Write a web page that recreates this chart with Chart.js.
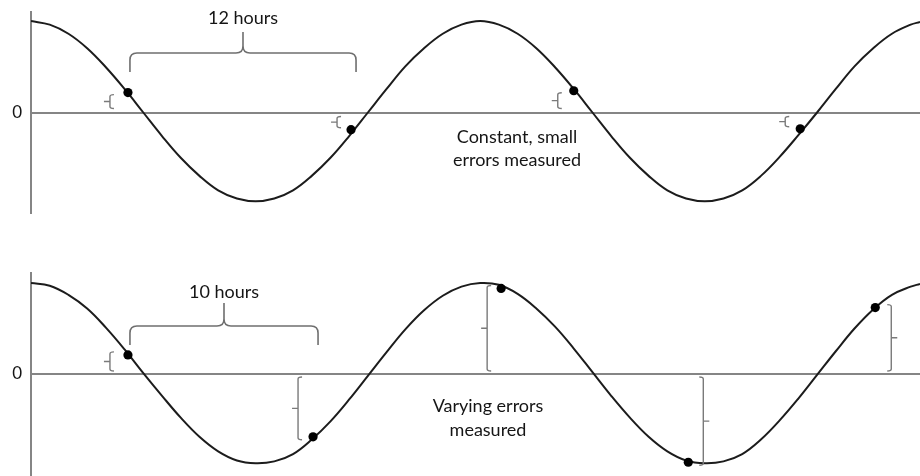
<!DOCTYPE html>
<html>
<head>
<meta charset="utf-8">
<script src="https://cdn.jsdelivr.net/npm/chart.js@4.4.1/dist/chart.umd.min.js"></script>
<style>
  html, body { margin: 0; padding: 0; background: #ffffff; }
  #wrap { position: relative; width: 920px; height: 476px; overflow: hidden; }
  canvas { position: absolute; left: 0; }
  #c1 { top: 0; }
  #c2 { top: 238px; }
</style>
</head>
<body>
<div id="wrap">
  <canvas id="c1" width="920" height="238"></canvas>
  <canvas id="c2" width="920" height="238"></canvas>
</div>
<script>
// ---- data (x in hours, y in wave amplitude units) ----
const hours = [0, 1, 2, 3, 4, 5, 6, 7, 8, 9, 10, 11, 12, 13, 14, 15, 16, 17, 18, 19, 20, 21, 22, 23, 24,
               25, 26, 27, 28, 29, 30, 31, 32, 33, 34, 35, 36, 37, 38, 39, 40, 41, 42, 43, 44, 45, 46, 47, 47.5];
const topWave = [1.01, 0.97, 0.87, 0.71, 0.50, 0.26, 0.00, -0.26, -0.50, -0.70, -0.86, -0.95, -0.98, -0.95, -0.86, -0.70, -0.50, -0.26, 0.00, 0.26, 0.51, 0.71, 0.87, 0.97, 1.01,
                 0.97, 0.87, 0.71, 0.50, 0.26, 0.00, -0.26, -0.50, -0.70, -0.86, -0.95, -0.98, -0.95, -0.86, -0.70, -0.49, -0.25, 0.00, 0.26, 0.51, 0.71, 0.87, 0.97, 1.00];
const bottomWave = [1.00, 0.97, 0.87, 0.72, 0.51, 0.27, 0.01, -0.24, -0.48, -0.69, -0.85, -0.95, -0.98, -0.96, -0.88, -0.72, -0.52, -0.28, -0.02, 0.24, 0.49, 0.70, 0.86, 0.96, 1.00,
                    0.98, 0.88, 0.72, 0.52, 0.28, 0.02, -0.24, -0.48, -0.69, -0.85, -0.95, -0.98, -0.96, -0.88, -0.72, -0.51, -0.27, -0.01, 0.25, 0.50, 0.71, 0.87, 0.96, 0.99];

const topSampleHours = [5.18, 17.1, 29.0, 41.1];
const topSampleValues = [0.22, -0.19, 0.24, -0.18];
const topErrorSides = ['left', 'left', 'left', 'left'];

const bottomSampleHours = [5.18, 15.07, 25.12, 35.12, 45.11];
const bottomSampleValues = [0.21, -0.69, 0.94, -0.97, 0.73];
const bottomErrorSides = ['left', 'left', 'left', 'right', 'right'];

const intervalLabels = ['12 hours', '10 hours'];
const noteTop = ['Constant, small', 'errors measured'];
const noteBottom = ['Varying errors', 'measured'];
const zeroTick = [0];

const FONT = 'Lato, "Open Sans", "DejaVu Sans", sans-serif';
const GREY = '#858585';
const INK = '#1c1c1c';

const marksPlugin = {
  id: 'marks',
  afterDatasetsDraw(chart) {
    const cfg = chart.options.plugins.marks;
    if (!cfg) return;
    const ctx = chart.ctx;
    const xs = chart.scales.x, ys = chart.scales.y;
    const y0 = ys.getPixelForValue(0);
    ctx.save();
    // error brackets
    ctx.strokeStyle = '#7a7a7a';
    ctx.lineWidth = 1.4;
    cfg.hours.forEach((h, i) => {
      const dx = xs.getPixelForValue(h);
      const dy = ys.getPixelForValue(cfg.values[i]);
      const left = cfg.sides[i] === 'left';
      const off = cfg.offsets[i];
      const vx = left ? dx - off : dx + off;
      const dir = dy < y0 ? 1 : -1; // from dot toward zero
      const yA = dy + dir * cfg.dotInset;
      const yB = y0 - dir * cfg.zeroInset;
      const hook = left ? 4 : -4;
      const tick = left ? -6 : 6;
      ctx.beginPath();
      ctx.moveTo(vx + hook, yA);
      ctx.quadraticCurveTo(vx, yA, vx, yA + dir * 2);
      ctx.lineTo(vx, yB - dir * 2);
      ctx.quadraticCurveTo(vx, yB, vx + hook, yB);
      ctx.moveTo(vx, (yA + yB) / 2);
      ctx.lineTo(vx + tick, (yA + yB) / 2);
      ctx.stroke();
    });
    // curly brace over the interval between first two samples
    const b = cfg.brace;
    const x1 = xs.getPixelForValue(cfg.hours[0]) + 2;
    const x2 = xs.getPixelForValue(cfg.hours[1]) + 5;
    const xm = (x1 + x2) / 2;
    const r = 7;
    ctx.strokeStyle = '#6f6f6f';
    ctx.lineWidth = 1.6;
    ctx.beginPath();
    ctx.moveTo(x1, b.yEnd);
    ctx.lineTo(x1, b.yLine + r);
    ctx.quadraticCurveTo(x1, b.yLine, x1 + r, b.yLine);
    ctx.lineTo(xm - r, b.yLine);
    ctx.quadraticCurveTo(xm, b.yLine, xm, b.yLine - r);
    ctx.lineTo(xm, b.yTip);
    ctx.moveTo(xm, b.yLine - r);
    ctx.quadraticCurveTo(xm, b.yLine, xm + r, b.yLine);
    ctx.lineTo(x2 - r, b.yLine);
    ctx.quadraticCurveTo(x2, b.yLine, x2, b.yLine + r);
    ctx.lineTo(x2, b.yEnd);
    ctx.stroke();
    ctx.fillStyle = '#151515';
    ctx.font = '18px ' + FONT;
    ctx.textAlign = 'center';
    ctx.textBaseline = 'middle';
    ctx.fillText(b.label, xm, b.yText);
    // note text
    cfg.note.lines.forEach((t, i) => {
      ctx.fillText(t, cfg.note.x, cfg.note.y + i * cfg.note.lh);
    });
    ctx.restore();
  }
};

function buildChart(id, wave, sHours, sValues, sides, padding, marks) {
  return new Chart(document.getElementById(id), {
    type: 'line',
    data: {
      datasets: [
        {
          data: hours.map((h, i) => ({ x: h, y: wave[i] })),
          borderColor: INK,
          borderWidth: 2,
          pointRadius: 0,
          tension: 0.4,
          fill: false,
          order: 2
        },
        {
          data: sHours.map((h, i) => ({ x: h, y: sValues[i] })),
          showLine: false,
          pointRadius: 4.6,
          pointBackgroundColor: '#000',
          pointBorderColor: '#000',
          pointBorderWidth: 0,
          order: 1
        }
      ]
    },
    options: {
      responsive: false,
      animation: false,
      devicePixelRatio: 1,
      layout: { padding: padding, autoPadding: false },
      plugins: {
        legend: { display: false },
        tooltip: { enabled: false },
        marks: Object.assign({ hours: sHours, values: sValues, sides: sides }, marks)
      },
      scales: {
        x: { type: 'linear', min: 0, max: 47.5, display: false },
        y: {
          min: -1.11, max: 1.11,
          afterBuildTicks: s => { s.ticks = zeroTick.map(v => ({ value: v })); },
          afterFit: s => { s.width = 31; s.paddingTop = 0; s.paddingBottom = 0; },
          grid: { color: GREY, lineWidth: 2, drawTicks: false },
          border: { display: true, color: GREY, width: 2 },
          ticks: { color: '#151515', padding: 9, font: { family: FONT, size: 17 } }
        }
      }
    },
    plugins: [marksPlugin]
  });
}

buildChart('c1', topWave, topSampleHours, topSampleValues, topErrorSides,
  { top: 12, bottom: 25, left: 0, right: 0 },
  {
    offsets: [18, 14, 16, 15], dotInset: 2, zeroInset: 4,
    brace: { yLine: 53, yEnd: 72, yTip: 32, yText: 18, label: intervalLabels[0] },
    note: { lines: noteTop, x: 517, y: 137, lh: 23 }
  });

buildChart('c2', bottomWave, bottomSampleHours, bottomSampleValues, bottomErrorSides,
  { top: 35, bottom: 1, left: 0, right: 0 },
  {
    offsets: [18, 15, 14, 15, 16], dotInset: -3, zeroInset: 3,
    brace: { yLine: 88, yEnd: 107, yTip: 65, yText: 54, label: intervalLabels[1] },
    note: { lines: noteBottom, x: 488, y: 168, lh: 24 }
  });
</script>
</body>
</html>
